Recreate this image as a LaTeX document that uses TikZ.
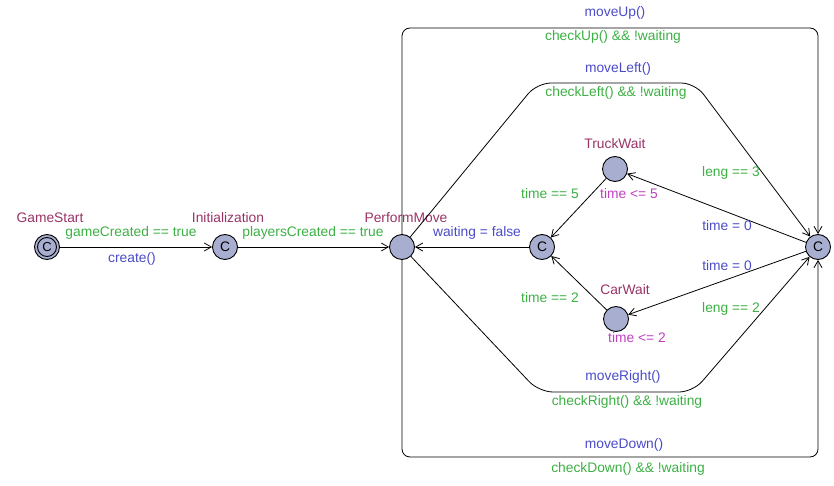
\documentclass[tikz,border=0pt]{standalone}
\usepackage{fontspec}
\setmainfont{Liberation Sans}
\usetikzlibrary{arrows.meta}
\definecolor{namecol}{HTML}{993366}
\definecolor{guardcol}{HTML}{3CB043}
\definecolor{synccol}{HTML}{4B4BC8}
\definecolor{invcol}{HTML}{C040C0}
\definecolor{locfill}{HTML}{A8AED0}

\tikzset{
  loc/.style={circle, draw, fill=locfill, minimum size=25pt, inner sep=0pt, line width=0.9pt},
  trans/.style={-{Straight Barb[length=7pt,width=8pt]}, line width=0.8pt},
  locname/.style={text=namecol},
  guard/.style={text=guardcol},
  sync/.style={text=synccol},
  update/.style={text=synccol},
  inv/.style={text=invcol}
}

\begin{document}
\begin{tikzpicture}[x=1pt, y=-1pt, font=\fontsize{13.8}{16}\selectfont]
    \useasboundingbox (0,0) rectangle (834,486);

    % locations
    \node [loc] (gs) at (47,247) {};
    \node [circle, draw, line width=0.9pt, minimum size=19pt, inner sep=0pt, font=\fontsize{13}{13}\selectfont] (gsin) at (gs) {C};
    \node [loc] (init) at (225,247) {C};
    \node [loc] (pm) at (402,247) {};
    \node [loc] (wc) at (542,247) {C};
    \node [loc] (tw) at (615,169) {};
    \node [loc] (cw) at (616,319) {};
    \node [loc] (sel) at (818,247) {C};

    \node [locname] (gsname) at (50,218) {GameStart};
    \node [locname] (initname) at (228,218) {Initialization};
    \node [locname] (pmname) at (406,218) {PerformMove};
    \node [locname] (twname) at (615,144) {TruckWait};
    \node [locname] (cwname) at (625,290) {CarWait};

    \node [inv] (twinv) at (629,194) {time <= 5};
    \node [inv] (cwinv) at (637,338) {time <= 2};

    % corner points
    \coordinate (upL) at (402,28);
    \coordinate (upR) at (818,28);
    \coordinate (dnL) at (402,457);
    \coordinate (dnR) at (818,457);
    \coordinate (lfL) at (537,83);
    \coordinate (lfR) at (695,83);
    \coordinate (rtL) at (539,392);
    \coordinate (rtR) at (693,392);

    % transitions
    \draw [trans] (gs) -- (init);
    \draw [trans] (init) -- (pm);
    \draw [trans] (wc) -- (pm);
    \draw [trans] (tw) -- (wc);
    \draw [trans] (cw) -- (wc);
    \draw [trans] (sel) -- (tw);
    \draw [trans] (sel) -- (cw);
    \draw [trans, rounded corners=8pt] (pm) -- (upL) -- (upR) -- (sel);
    \draw [trans, rounded corners=8pt] (pm) -- (dnL) -- (dnR) -- (sel);
    \draw [trans, rounded corners=14pt] (pm) -- (lfL) -- (lfR) -- (sel);
    \draw [trans, rounded corners=14pt] (pm) -- (rtL) -- (rtR) -- (sel);

    % labels
    \node [guard] (g1) at (131,233) {gameCreated == true};
    \node [sync] (s1) at (132,259) {create()};
    \node [guard] (g2) at (313,233) {playersCreated == true};
    \node [update] (u1) at (477,233) {waiting = false};
    \node [sync] (sUp) at (615,13) {moveUp()};
    \node [guard] (gUp) at (613,37) {checkUp() \&\& !waiting};
    \node [sync] (sLeft) at (618,69) {moveLeft()};
    \node [guard] (gLeft) at (616,93) {checkLeft() \&\& !waiting};
    \node [sync] (sRight) at (623,377) {moveRight()};
    \node [guard] (gRight) at (627,402) {checkRight() \&\& !waiting};
    \node [sync] (sDown) at (624,445) {moveDown()};
    \node [guard] (gDown) at (628,469) {checkDown() \&\& !waiting};
    \node [guard] (g5) at (550,194) {time == 5};
    \node [guard] (g2w) at (550,298) {time == 2};
    \node [guard] (gl3) at (731,173) {leng == 3};
    \node [guard] (gl2) at (731,309) {leng == 2};
    \node [update] (uT) at (727,226) {time = 0};
    \node [update] (uC) at (727,266) {time = 0};
\end{tikzpicture}
\end{document}
